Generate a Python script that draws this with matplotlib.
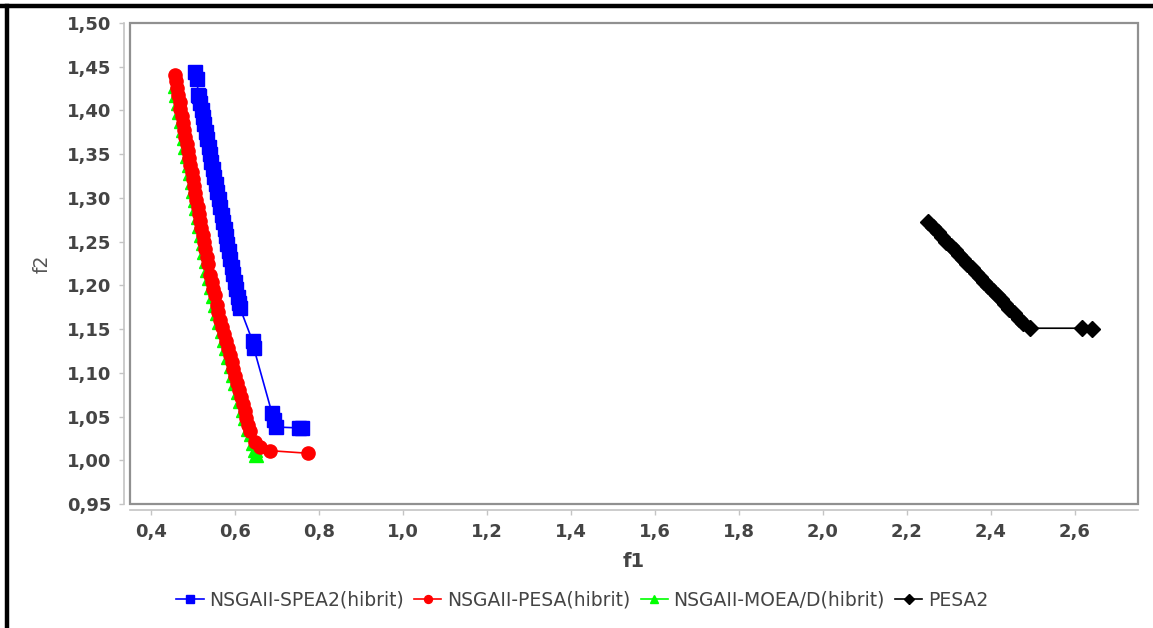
import matplotlib.pyplot as plt
from matplotlib.lines import Line2D
from matplotlib.patches import Rectangle

# NSGAII-SPEA2 (hibrit)
spea2_f1 = [0.505, 0.510, 0.512, 0.514, 0.517, 0.521, 0.524, 0.527, 0.531, 0.534, 0.538,
            0.541, 0.544, 0.548, 0.551, 0.555, 0.558, 0.561, 0.565, 0.569, 0.572, 0.576,
            0.579, 0.582, 0.586, 0.589, 0.593, 0.596, 0.600, 0.603, 0.607, 0.610, 0.612,
            0.642, 0.645, 0.688, 0.692, 0.698, 0.752, 0.760]
spea2_f2 = [1.444, 1.436, 1.418, 1.416, 1.408, 1.400, 1.392, 1.384, 1.375, 1.367, 1.358,
            1.350, 1.341, 1.333, 1.324, 1.316, 1.307, 1.299, 1.290, 1.281, 1.273, 1.264,
            1.256, 1.247, 1.239, 1.230, 1.221, 1.213, 1.204, 1.196, 1.187, 1.180, 1.174,
            1.136, 1.128, 1.054, 1.046, 1.038, 1.037, 1.037]

# NSGAII-PESA (hibrit)
pesa_f1 = [0.457, 0.459, 0.462, 0.465, 0.468, 0.470, 0.473, 0.476, 0.479, 0.482, 0.485,
           0.488, 0.491, 0.494, 0.497, 0.500, 0.502, 0.505, 0.508, 0.511, 0.514, 0.517,
           0.520, 0.523, 0.526, 0.529, 0.533, 0.536, 0.541, 0.545, 0.548, 0.552, 0.556,
           0.560, 0.565, 0.570, 0.574, 0.579, 0.583, 0.587, 0.592, 0.596, 0.600, 0.605,
           0.610, 0.614, 0.619, 0.623, 0.627, 0.632, 0.636, 0.648, 0.660, 0.683, 0.774]
pesa_f2 = [1.440, 1.434, 1.426, 1.418, 1.410, 1.402, 1.394, 1.386, 1.378, 1.370, 1.362,
           1.354, 1.346, 1.338, 1.330, 1.322, 1.314, 1.306, 1.298, 1.290, 1.282, 1.274,
           1.266, 1.258, 1.250, 1.242, 1.232, 1.224, 1.212, 1.204, 1.196, 1.189, 1.178,
           1.169, 1.160, 1.152, 1.144, 1.136, 1.128, 1.120, 1.112, 1.104, 1.096, 1.088,
           1.080, 1.072, 1.064, 1.056, 1.048, 1.040, 1.034, 1.021, 1.015, 1.011, 1.008]

# NSGAII-MOEA/D (hibrit)
moead_f1 = [0.457, 0.460, 0.464, 0.467, 0.471, 0.475, 0.479, 0.482, 0.486, 0.490, 0.493,
            0.497, 0.500, 0.504, 0.508, 0.511, 0.515, 0.519, 0.523, 0.527, 0.530, 0.534,
            0.539, 0.543, 0.548, 0.552, 0.556, 0.562, 0.568, 0.573, 0.579, 0.584, 0.590,
            0.595, 0.601, 0.607, 0.612, 0.618, 0.623, 0.630, 0.639, 0.644, 0.648, 0.651]
moead_f2 = [1.428, 1.418, 1.408, 1.398, 1.388, 1.378, 1.368, 1.358, 1.348, 1.338, 1.328,
            1.318, 1.308, 1.298, 1.288, 1.278, 1.268, 1.258, 1.248, 1.238, 1.228, 1.218,
            1.208, 1.198, 1.188, 1.178, 1.168, 1.158, 1.148, 1.138, 1.128, 1.118, 1.108,
            1.098, 1.088, 1.078, 1.068, 1.058, 1.048, 1.036, 1.030, 1.020, 1.012, 1.006]

# PESA2
pesa2_f1 = [2.250, 2.262, 2.274, 2.284, 2.294, 2.304, 2.314, 2.324, 2.334, 2.344, 2.354,
            2.364, 2.374, 2.384, 2.394, 2.404, 2.414, 2.424, 2.434, 2.444, 2.454, 2.466,
            2.476, 2.493, 2.617, 2.640]
pesa2_f2 = [1.273, 1.267, 1.261, 1.255, 1.250, 1.245, 1.240, 1.235, 1.230, 1.225, 1.220,
            1.214, 1.209, 1.204, 1.199, 1.194, 1.189, 1.184, 1.179, 1.173, 1.168, 1.162,
            1.157, 1.151, 1.151, 1.150]

labels = ['NSGAII-SPEA2(hibrit)', 'NSGAII-PESA(hibrit)', 'NSGAII-MOEA/D(hibrit)', 'PESA2']

x_ticks = [0.4, 0.6, 0.8, 1.0, 1.2, 1.4, 1.6, 1.8, 2.0, 2.2, 2.4, 2.6]
x_labels = ['0,4', '0,6', '0,8', '1,0', '1,2', '1,4', '1,6', '1,8', '2,0', '2,2', '2,4', '2,6']
y_ticks = [0.95, 1.00, 1.05, 1.10, 1.15, 1.20, 1.25, 1.30, 1.35, 1.40, 1.45, 1.50]
y_labels = ['0,95', '1,00', '1,05', '1,10', '1,15', '1,20', '1,25', '1,30', '1,35', '1,40',
            '1,45', '1,50']

plt.rcParams['font.family'] = ['DejaVu Sans']

fig = plt.figure(figsize=(11.53, 6.28), dpi=100)
ax = fig.add_axes([130 / 1153, 1 - 504 / 628, 1008 / 1153, 481 / 628])

# JFreeChart draws series 0 on top, so plot in reverse order
ax.plot(pesa2_f1, pesa2_f2, color='black', marker='D', markersize=8.5, lw=1.2, label=labels[3], zorder=2)
ax.plot(moead_f1, moead_f2, color='#00ff00', marker='^', markersize=9.5, lw=1.2, label=labels[2], zorder=3)
ax.plot(pesa_f1, pesa_f2, color='#ff0000', marker='o', markersize=9.5, lw=1.2, label=labels[1], zorder=4)
ax.plot(spea2_f1, spea2_f2, color='#0000ff', marker='s', markersize=9.5, lw=1.2, label=labels[0], zorder=5)

ax.set_xlim(0.35, 2.75)
ax.set_ylim(0.95, 1.50)
ax.set_xticks(x_ticks)
ax.set_xticklabels(x_labels)
ax.set_yticks(y_ticks)
ax.set_yticklabels(y_labels)

# separate axis lines, offset from the plot box
for side in ['top', 'right']:
    ax.spines[side].set_visible(False)
for side in ['left', 'bottom']:
    ax.spines[side].set_position(('outward', 4.3))
    ax.spines[side].set_color('#c4c4c4')
    ax.spines[side].set_linewidth(1.2)
ax.add_patch(Rectangle((0, 0), 1, 1, transform=ax.transAxes, fill=False,
                       edgecolor='#909090', lw=1.6, clip_on=False, zorder=10))

ax.tick_params(axis='both', length=3.6, width=1, color='#c4c4c4', labelcolor='#444444',
               labelsize=13, pad=5.5)
for t in ax.get_xticklabels() + ax.get_yticklabels():
    t.set_fontweight('bold')

ax.set_xlabel('f1', fontsize=14, fontweight='bold', color='#444444', labelpad=8)
ax.set_ylabel('f2', fontsize=13.5, color='#555555', labelpad=11)

handles, labs = ax.get_legend_handles_labels()
leg = fig.legend(handles[::-1], labs[::-1], loc='center', bbox_to_anchor=(0.505, 1 - 600 / 628),
                 ncol=4, frameon=False, fontsize=13.5, handlelength=1.45, handletextpad=0.3,
                 columnspacing=0.55, markerscale=0.6)
for t in leg.get_texts():
    t.set_color('#444444')

# black border lines of the picture
fig.add_artist(Line2D([0, 1], [1 - 6 / 628, 1 - 6 / 628], color='black', lw=3.2))
fig.add_artist(Line2D([7 / 1153, 7 / 1153], [0, 1 - 6 / 628], color='black', lw=3.2))

fig.savefig('out.png', dpi=100)
